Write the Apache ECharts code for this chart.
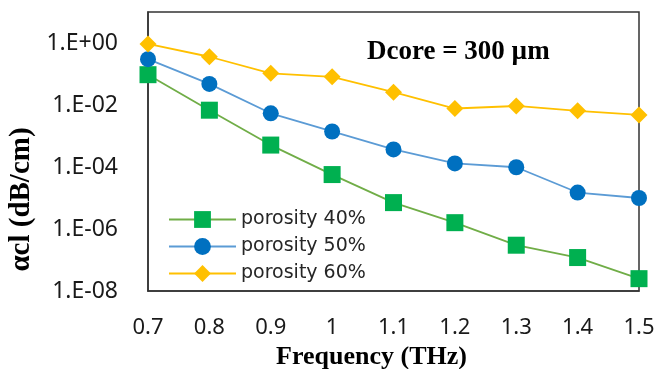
<!DOCTYPE html>
<html>
<head>
<meta charset="utf-8">
<script src="https://cdn.jsdelivr.net/npm/echarts@6/dist/echarts.min.js"></script>
<style>
  html, body { margin: 0; padding: 0; background: #fff; }
  #chart { width: 672px; height: 369px; }
</style>
</head>
<body>
<div id="chart"></div>
<script>
const frequencies = ['0.7', '0.8', '0.9', '1', '1.1', '1.2', '1.3', '1.4', '1.5'];
const porosity40 = [0.095, 0.0068, 5.1e-4, 5.7e-5, 7.1e-6, 1.6e-6, 3.0e-7, 1.2e-7, 2.5e-8];
const porosity50 = [0.30, 0.048, 0.0054, 0.0014, 3.7e-4, 1.3e-4, 9.8e-5, 1.5e-5, 1.0e-5];
const porosity60 = [0.93, 0.36, 0.105, 0.081, 0.026, 0.0077, 0.0093, 0.0065, 0.0048];
const yTickExponents = [-8, -6, -4, -2, 0];
const yTickLabels = ['1.E-08', '1.E-06', '1.E-04', '1.E-02', '1.E+00'];
const seriesNames = ['porosity 40%', 'porosity 50%', 'porosity 60%'];

const chart = echarts.init(document.getElementById('chart'), null, { renderer: 'canvas' });

const axisFont = { fontFamily: 'Noto Sans', color: '#1a1a1a' };

chart.setOption({
  animation: false,
  backgroundColor: '#ffffff',
  title: {
    text: 'Dcore = 300 µm',
    left: 362,
    top: 34,
    textStyle: { fontFamily: 'Liberation Serif', fontWeight: 'bold', fontSize: 27, color: '#000' }
  },
  legend: {
    orient: 'vertical',
    left: 163,
    top: 205,
    itemWidth: 67,
    itemHeight: 21,
    itemGap: 8,
    textStyle: { fontFamily: 'DejaVu Sans', fontSize: 19, color: '#262626' },
    data: seriesNames
  },
  grid: {
    left: 148, right: 33, top: 12, bottom: 78,
    containLabel: false,
    outerBoundsMode: 'none',
    show: true, borderColor: '#333', borderWidth: 1.5, backgroundColor: 'transparent'
  },
  xAxis: {
    type: 'category',
    data: frequencies,
    boundaryGap: false,
    axisLine: { lineStyle: { color: '#333', width: 1.5 } },
    axisTick: { show: false },
    axisLabel: Object.assign({ fontSize: 22, margin: 26 }, axisFont),
    name: 'Frequency (THz)',
    nameLocation: 'middle',
    nameGap: 53,
    nameTextStyle: { fontFamily: 'Liberation Serif', fontWeight: 'bold', fontSize: 26, color: '#000', padding: [0, 44, 0, 0] }
  },
  yAxis: {
    type: 'log',
    logBase: 10,
    min: 1e-8,
    max: 10,
    splitNumber: 9,
    splitLine: { show: false },
    axisLine: { show: true, lineStyle: { color: '#333', width: 1.5 } },
    axisTick: { show: false },
    axisLabel: Object.assign({
      fontSize: 23, margin: 30,
      formatter: function (v) {
        const e = Math.round(Math.log10(v));
        const i = yTickExponents.indexOf(e);
        return i >= 0 ? yTickLabels[i] : '';
      }
    }, axisFont),
    name: 'αcl (dB/cm)',
    nameLocation: 'middle',
    nameGap: 98,
    nameTextStyle: { fontFamily: 'Liberation Serif', fontWeight: 'bold', fontSize: 29, color: '#000', padding: [0, 96, 0, 0] }
  },
  series: [
    {
      name: seriesNames[0], type: 'line', data: porosity40, clip: false,
      symbol: 'rect', symbolSize: 17,
      lineStyle: { color: '#70AD47', width: 1.8 },
      itemStyle: { color: '#00B050' }
    },
    {
      name: seriesNames[1], type: 'line', data: porosity50, clip: false,
      symbol: 'circle', symbolSize: 16,
      lineStyle: { color: '#5B9BD5', width: 1.8 },
      itemStyle: { color: '#0070C0' }
    },
    {
      name: seriesNames[2], type: 'line', data: porosity60, clip: false,
      symbol: 'diamond', symbolSize: 17,
      lineStyle: { color: '#FFC000', width: 1.8 },
      itemStyle: { color: '#FFC000' }
    }
  ]
});
</script>
</body>
</html>
